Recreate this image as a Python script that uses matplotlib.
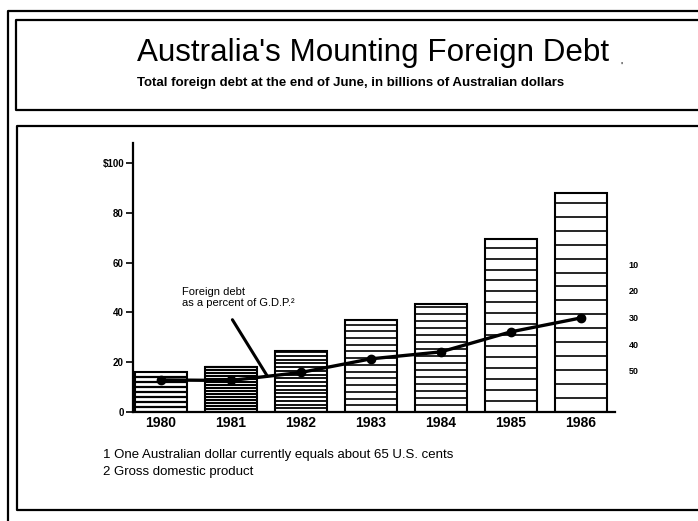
import numpy as np
import matplotlib.pyplot as plt
from matplotlib.lines import Line2D

plt.rcParams['font.family'] = ['Liberation Sans', 'DejaVu Sans']

# data
years = ['1980', '1981', '1982', '1983', '1984', '1985', '1986']
debt = [16, 18, 24.5, 37, 43.5, 69.5, 88]          # billions A$
pct_gdp = [53.4, 53.6, 50.6, 45.5, 42.9, 35.4, 30.2]  # right scale, as printed
pct_ticks = [10, 20, 30, 40, 50]
debt_ticks = [0, 20, 40, 60, 80, 100]
debt_labels = ['0', '20', '40', '60', '80', '$100']
hatch_gap = [2.0, 1.2, 1.5, 2.7, 2.8, 4.4, 5.6]     # spacing of the rules in each bar
hatch_lw = [1.6, 1.5, 1.3, 1.2, 1.2, 1.2, 1.2]

W, H = 698, 521
fig = plt.figure(figsize=(W / 100, H / 100), dpi=100)


def fx(x):
    return x / W


def fy(y):
    return 1 - y / H


# frames
def frame(pts, lw=1.6):
    xs = [fx(p[0]) for p in pts]
    ys = [fy(p[1]) for p in pts]
    fig.add_artist(Line2D(xs, ys, color='black', lw=lw, transform=fig.transFigure))


frame([(8, 521), (8, 11), (698, 11)])
frame([(698, 20), (16, 20), (16, 110), (698, 110)])
frame([(698, 126), (17, 126), (17, 510), (698, 510)])

fig.text(fx(373), fy(53), "Australia's Mounting Foreign Debt", ha='center', va='center',
         fontsize=22.6)
fig.text(fx(621), fy(67), "'", ha='center', va='center', fontsize=8)
fig.text(fx(351), fy(83), "Total foreign debt at the end of June, in billions of Australian dollars",
         ha='center', va='center', fontsize=9.5, fontweight='bold')

ax = fig.add_axes([fx(133), fy(412), fx(615) - fx(133), fy(143) - fy(412)])
x = np.arange(len(years))
width = 0.74

ax.bar(x, debt, width=width, color='white', edgecolor='black', lw=1.5, zorder=2)
for xi, v, g, lw in zip(x, debt, hatch_gap, hatch_lw):
    rules = np.arange(g, v, g)
    ax.hlines(rules, xi - width / 2, xi + width / 2, color='black', lw=lw, zorder=3)

ax.set_xlim(-0.4, 6.49)
ax.set_ylim(0, 108)
ax.set_xticks(x)
ax.set_xticklabels(years, fontsize=10, fontweight='bold')
ax.set_yticks(debt_ticks)
ax.set_yticklabels(debt_labels, fontsize=7, fontweight='bold')
ax.tick_params(axis='x', length=0, pad=3)
ax.tick_params(axis='y', length=5, width=1.2, pad=1.5)
for s in ['top', 'right']:
    ax.spines[s].set_visible(False)
ax.spines['left'].set_linewidth(1.6)
ax.spines['bottom'].set_linewidth(1.6)

# percent of GDP on its own scale
ax2 = ax.twinx()
ax2.set_ylim(65.4, -35.3)
ax2.plot(x, pct_gdp, color='black', lw=2.4, marker='o', markersize=6, zorder=5)
ax2.set_yticks(pct_ticks)
ax2.set_yticklabels([str(t) for t in pct_ticks], fontsize=6.5, fontweight='bold')
ax2.tick_params(axis='y', length=0, pad=10)
for s in ax2.spines.values():
    s.set_visible(False)

ax.annotate('', xy=(1.54, 13.5), xytext=(1.0, 38),
            arrowprops=dict(arrowstyle='-', lw=2.2, color='black'))
ax.text(0.3, 46, 'Foreign debt\nas a percent of G.D.P.²', fontsize=8, va='center',
        linespacing=1.1)

fig.text(fx(103), fy(455), '1 One Australian dollar currently equals about 65 U.S. cents',
         fontsize=9.5, va='center')
fig.text(fx(103), fy(472), '2 Gross domestic product', fontsize=9.5, va='center')

fig.savefig('out.png', dpi=100)
